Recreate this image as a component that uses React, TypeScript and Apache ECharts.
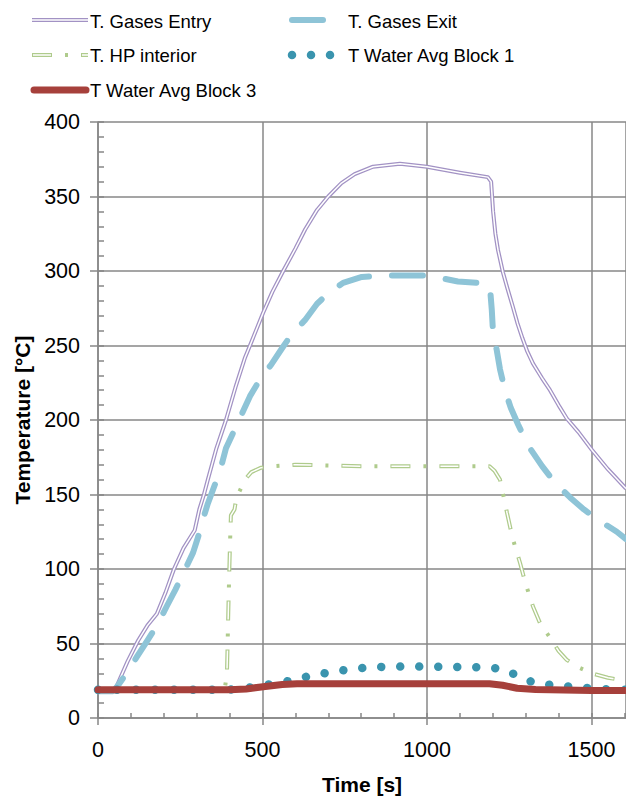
import React, { useEffect, useRef } from "react";
import * as echarts from "echarts";

// ---- data (time [s], temperature [°C]) ----
const entryTime = [0, 45, 58, 90, 122, 150, 179, 205, 231, 260, 294, 308, 322, 334, 360, 389, 418, 447, 462, 502, 530, 563, 600, 630, 666, 700, 740, 780, 836, 918, 1000, 1100, 1185, 1195, 1201, 1208, 1216, 1231, 1245, 1261, 1275, 1290, 1305, 1322, 1350, 1374, 1400, 1425, 1460, 1501, 1550, 1605];
const entryTemp = [18, 18, 22, 38, 52, 62, 70, 84, 100, 114, 126, 140, 150, 160, 181, 200, 222, 242, 250, 272, 286, 300, 315, 328, 341, 350, 359, 365, 370, 372, 370, 366, 363, 360, 340, 325, 314, 299, 288, 276, 265, 255, 246, 238, 228, 220, 210, 201, 192, 180, 167, 154];

const exitTime = [0, 45, 58, 90, 118, 150, 179, 209, 235, 259, 289, 305, 320, 334, 371, 389, 435, 462, 500, 526, 559, 590, 629, 666, 700, 745, 802, 878, 1000, 1094, 1155, 1186, 1193, 1197, 1201, 1212, 1222, 1237, 1255, 1277, 1307, 1350, 1389, 1435, 1477, 1520, 1577, 1605];
const exitTemp = [18, 18, 21, 31, 41, 52, 62, 75, 86, 97, 111, 122, 134, 144, 166, 181, 203, 216, 230, 237, 248, 258, 267, 278, 285, 292, 296, 297, 297, 293, 292, 291, 285, 274, 258, 247, 234, 220, 208, 197, 183, 169, 158, 148, 140, 133, 125, 120];

const hpTime = [0, 385, 392, 397, 401, 404, 415, 420, 432, 447, 466, 496, 532, 600, 800, 1000, 1190, 1205, 1222, 1243, 1260, 1283, 1300, 1322, 1345, 1374, 1400, 1425, 1460, 1501, 1550, 1605];
const hpTemp = [19, 19, 30, 80, 115, 136, 140, 147, 153, 160, 165, 168, 169, 170, 169, 169, 169, 166, 160, 138, 121, 104, 90, 75, 63, 54, 45, 39, 34, 30, 27, 25];

const block1Time = [0, 400, 447, 502, 563, 620, 660, 715, 775, 832, 893, 1000, 1167, 1200, 1228, 1255, 1277, 1322, 1380, 1435, 1501, 1562, 1605];
const block1Temp = [19, 19, 20, 22, 24, 27, 29, 31, 33, 34, 34.5, 34.5, 34, 33.5, 33, 30.5, 28, 24, 22, 21, 20, 19, 19];

const block3Time = [0, 400, 450, 502, 560, 605, 800, 1000, 1190, 1230, 1274, 1330, 1374, 1500, 1605];
const block3Temp = [19, 19, 19.5, 21, 22.5, 23, 23, 23, 23, 22, 20, 19.2, 19, 18.5, 18.5];

const xTicks = [0, 500, 1000, 1500];
const yTicks = [0, 50, 100, 150, 200, 250, 300, 350, 400];

const seriesNames = ["T. Gases Entry", "T. Gases Exit", "T. HP interior", "T Water Avg Block 1", "T Water Avg Block 3"];

const pairs = (t: number[], v: number[]) => t.map((x, i) => [x, v[i]]);

const FONT = "'Liberation Sans', Arial, sans-serif";
const GRID = "#878787";
const C_ENTRY = "#A292C4";
const C_EXIT = "#8EC4D7";
const C_HP = "#AFCB8C";
const C_B1 = "#3A94AE";
const C_B3 = "#A6403B";

const DASH_EXIT = [31, 23];
const DASH_HP = [20, 13, 3, 13];
const DASH_HP_IN = [0, 1, 18, 30];
const DASH_B1 = [0.01, 19];

export default function App() {
  const ref = useRef<HTMLDivElement>(null);
  useEffect(() => {
    if (!ref.current) return;
    const chart = echarts.init(ref.current, null, { renderer: "svg" });
    const lineAxisStyle = { color: GRID, width: 1.5 };
    const legendText = (x: number, y: number, text: string) => ({
      type: "text",
      x,
      y,
      style: { text, fill: "#000", fontFamily: FONT, fontSize: 18.5, verticalAlign: "middle", textVerticalAlign: "middle" },
    });
    const legLine = (x1: number, x2: number, y: number, stroke: string, lineWidth: number, lineDash?: number[], lineCap = "butt") => ({
      type: "line",
      shape: { x1, y1: y, x2, y2: y },
      style: { stroke, lineWidth, lineDash, lineCap },
    });
    const base = { type: "line", showSymbol: false, symbol: "none", silent: true, clip: true };
    chart.setOption({
      animation: false,
      backgroundColor: "#fff",
      grid: { left: 98, right: 0, top: 122, bottom: 81, outerBoundsMode: "none", containLabel: false },
      xAxis: [
        {
          type: "value",
          min: 0,
          max: 1605,
          interval: 500,
          position: "bottom",
          name: "Time [s]",
          nameLocation: "middle",
          nameGap: 56,
          nameTextStyle: { fontFamily: FONT, fontSize: 21, fontWeight: "bold", color: "#000" },
          axisLine: { show: true, lineStyle: lineAxisStyle },
          axisTick: { show: true, length: 7, lineStyle: lineAxisStyle },
          axisLabel: {
            fontFamily: FONT,
            fontSize: 21.5,
            color: "#000",
            margin: 21,
            showMaxLabel: false,
            formatter: (v: number) => (xTicks.includes(v) ? String(v) : ""),
          },
          splitLine: { show: true, lineStyle: lineAxisStyle },
        },
        {
          type: "value",
          min: 0,
          max: 1605,
          interval: 100,
          position: "bottom",
          axisLine: { show: false },
          axisTick: { show: true, inside: true, length: 5, lineStyle: lineAxisStyle },
          axisLabel: { show: false },
          splitLine: { show: false },
        },
      ],
      yAxis: [
        {
          type: "value",
          min: 0,
          max: 400,
          interval: 50,
          position: "left",
          name: "Temperature [°C]",
          nameLocation: "middle",
          nameGap: 64,
          nameRotate: 90,
          nameTextStyle: { fontFamily: FONT, fontSize: 21, fontWeight: "bold", color: "#000" },
          axisLine: { show: true, lineStyle: lineAxisStyle },
          axisTick: { show: true, length: 8, lineStyle: lineAxisStyle },
          axisLabel: {
            fontFamily: FONT,
            fontSize: 21.5,
            color: "#000",
            margin: 18,
            formatter: (v: number) => (yTicks.includes(v) ? String(v) : ""),
          },
          splitLine: { show: true, lineStyle: lineAxisStyle },
        },
        {
          type: "value",
          min: 0,
          max: 400,
          interval: 10,
          position: "left",
          axisLine: { show: false },
          axisTick: { show: true, inside: true, length: 6, lineStyle: lineAxisStyle },
          axisLabel: { show: false },
          splitLine: { show: false },
        },
      ],
      series: [
        { ...base, name: seriesNames[0], data: pairs(entryTime, entryTemp), lineStyle: { color: C_ENTRY, width: 4, join: "round" } },
        { ...base, name: seriesNames[0] + " (inner)", data: pairs(entryTime, entryTemp), lineStyle: { color: "#fff", width: 1.5, join: "round" } },
        { ...base, name: seriesNames[1], data: pairs(exitTime, exitTemp), lineStyle: { color: C_EXIT, width: 6, type: DASH_EXIT, cap: "round", join: "round" } },
        { ...base, name: seriesNames[2], data: pairs(hpTime, hpTemp), lineStyle: { color: C_HP, width: 4, type: DASH_HP } },
        { ...base, name: seriesNames[2] + " (inner)", data: pairs(hpTime, hpTemp), lineStyle: { color: "#fff", width: 1.5, type: DASH_HP_IN } },
        { ...base, name: seriesNames[3], data: pairs(block1Time, block1Temp), lineStyle: { color: C_B1, width: 8.5, type: DASH_B1, cap: "round" } },
        { ...base, name: seriesNames[4], data: pairs(block3Time, block3Temp), lineStyle: { color: C_B3, width: 7, cap: "round", join: "round" } },
      ],
      graphic: [
        legLine(32, 88, 20, C_ENTRY, 4),
        legLine(32, 88, 20, "#fff", 1.5),
        legendText(90, 21, seriesNames[0]),
        legLine(292, 345, 20, C_EXIT, 6, DASH_EXIT, "round"),
        legendText(348, 21, seriesNames[1]),
        legLine(32, 88, 55, C_HP, 4, DASH_HP),
        legLine(32, 88, 55, "#fff", 1.5, DASH_HP_IN),
        legendText(90, 55, seriesNames[2]),
        legLine(292, 345, 55, C_B1, 8.5, DASH_B1, "round"),
        legendText(348, 55, seriesNames[3]),
        legLine(34, 86, 90, C_B3, 7, undefined, "round"),
        legendText(90, 90, seriesNames[4]),
      ],
    });
    return () => chart.dispose();
  }, []);
  return <div ref={ref} style={{ position: "fixed", left: 0, top: 0, width: 626, height: 799 }} />;
}
